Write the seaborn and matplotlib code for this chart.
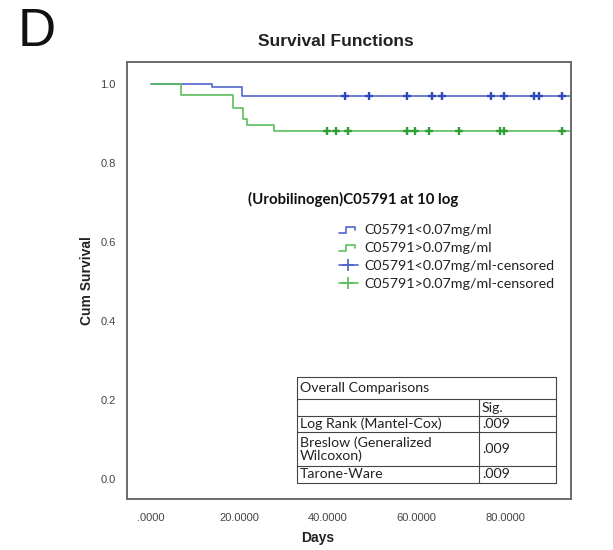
import numpy as np
import pandas as pd
import matplotlib
matplotlib.use("Agg")
import matplotlib.pyplot as plt
from matplotlib.lines import Line2D
from matplotlib.legend_handler import HandlerBase
import seaborn as sns

# ---------------- data ----------------
group_names = ["C05791<0.07mg/ml", "C05791>0.07mg/ml"]
blue_event_days = [13.8, 20.7]
blue_surv = [0.993, 0.970]
green_event_days = [6.8, 18.5, 20.8, 21.7, 27.8]
green_surv = [0.972, 0.940, 0.911, 0.896, 0.881]
blue_censor_days = [43.9, 49.3, 57.9, 63.6, 65.7, 76.9, 79.8, 86.6, 87.7, 92.8]
green_censor_days = [39.7, 41.8, 44.6, 57.9, 59.7, 62.8, 69.7, 78.8, 79.8, 92.8]
followup_end = 96.0
x_ticks = [0, 20, 40, 60, 80]
x_tick_labels = [".0000", "20.0000", "40.0000", "60.0000", "80.0000"]
y_ticks = [0.0, 0.2, 0.4, 0.6, 0.8, 1.0]
y_tick_labels = ["0.0", "0.2", "0.4", "0.6", "0.8", "1.0"]
table_title = "Overall Comparisons"
table_col = "Sig."
table_tests = ["Log Rank (Mantel-Cox)", "Breslow (Generalized\nWilcoxon)", "Tarone-Ware"]
table_sig = [".009", ".009", ".009"]

line_colors = ["#4f66cc", "#5cbf5c"]
mark_colors = ["#3148b8", "#2f9e34"]

# ---------------- build tables ----------------
def step_frame(events, surv, name):
    t = [0.0] + list(events) + [followup_end]
    s = [1.0] + list(surv) + [surv[-1]]
    return pd.DataFrame({"Days": t, "Cum Survival": s, "group": name})

def censor_frame(events, surv, cdays, name):
    t = np.array([0.0] + list(events))
    s = np.array([1.0] + list(surv))
    idx = np.searchsorted(t, np.array(cdays), side="right") - 1
    return pd.DataFrame({"Days": cdays, "Cum Survival": s[idx], "group": name})

steps = pd.concat([step_frame(blue_event_days, blue_surv, group_names[0]),
                   step_frame(green_event_days, green_surv, group_names[1])])
cens = pd.concat([censor_frame(blue_event_days, blue_surv, blue_censor_days, group_names[0]),
                  censor_frame(green_event_days, green_surv, green_censor_days, group_names[1])])

# ---------------- figure ----------------
sns.set_style("white")
plt.rcParams["font.family"] = ["Liberation Sans", "DejaVu Sans"]

W, H = 613, 550
fig = plt.figure(figsize=(W / 100, H / 100), dpi=100)
L, R, T, B = 127, 571, 62, 499
ax = fig.add_axes([L / W, 1 - B / H, (R - L) / W, (B - T) / H])

sns.lineplot(data=steps, x="Days", y="Cum Survival", hue="group",
             palette=line_colors, hue_order=group_names, drawstyle="steps-post",
             estimator=None, sort=False, linewidth=1.2, legend=False, ax=ax)
for g, c in zip(group_names, mark_colors):
    sns.scatterplot(data=cens[cens["group"] == g], x="Days", y="Cum Survival",
                    marker="+", color=c, s=34, linewidth=1.7, legend=False, ax=ax, zorder=5)

x0_px, x80_px = 150.7, 505.0
ppd = (x80_px - x0_px) / 80.0
ax.set_xlim((L - x0_px) / ppd, (R - x0_px) / ppd)
y1_px, y0_px = 84.0, 479.0
ppu = y0_px - y1_px
ax.set_ylim(-(B - y0_px) / ppu, 1 + (y1_px - T) / ppu)

ax.set_xticks(x_ticks)
ax.set_xticklabels(x_tick_labels)
ax.set_yticks(y_ticks)
ax.set_yticklabels(y_tick_labels)
ax.tick_params(axis="both", direction="out", length=6, width=1.2, color="#555555",
               labelsize=8, labelcolor="#444444", pad=2)
ax.tick_params(axis="x", length=7, pad=3)
for sp in ax.spines.values():
    sp.set_visible(True)
    sp.set_color("#6a6a6a")
    sp.set_linewidth(1.4)

ax.set_xlabel("Days", fontsize=10, fontweight="bold", color="#222222")
ax.set_ylabel("Cum Survival", fontsize=10, fontweight="bold", color="#222222")
ax.xaxis.set_label_coords((318 - L) / (R - L), -(531 - B) / (B - T))
ax.yaxis.set_label_coords(-(L - 94) / (R - L), 0.5)

# ---------------- overlay in pixel coordinates ----------------
ov = fig.add_axes([0, 0, 1, 1], facecolor="none")
ov.set_xlim(0, W)
ov.set_ylim(H, 0)
ov.axis("off")

ov.text(18, 46, "D", fontsize=38, color="#111111", ha="left", va="baseline")
ov.text(336, 42, "Survival Functions", fontsize=12.5, fontweight="bold",
        color="#222222", ha="center", va="center")

calib = ["Lato", "DejaVu Sans"]
ov.text(248, 199, "(Urobilinogen)C05791 at 10 log", fontsize=10.8, fontweight="bold",
        family=calib, color="#111111", ha="left", va="center")


class StepHandler(HandlerBase):
    def create_artists(self, legend, orig_handle, xdescent, ydescent,
                       width, height, fontsize, trans):
        x = np.array([0, 0.38, 0.38, 0.85, 0.85]) * width - xdescent
        y = np.array([0.15, 0.15, 0.75, 0.75, 0.45]) * height - ydescent
        ln = Line2D(x, y, color=orig_handle.get_color(), linewidth=1.2, transform=trans)
        return [ln]


handles = [Line2D([], [], color=line_colors[0]),
           Line2D([], [], color=line_colors[1]),
           Line2D([], [], color=line_colors[0], marker="+", markersize=8,
                  markeredgecolor=line_colors[0], markeredgewidth=1.3, linewidth=1.2),
           Line2D([], [], color=line_colors[1], marker="+", markersize=8,
                  markeredgecolor=line_colors[1], markeredgewidth=1.3, linewidth=1.2)]
labels = [group_names[0], group_names[1],
          group_names[0] + "-censored", group_names[1] + "-censored"]
ov.legend(handles, labels, loc="upper left", bbox_to_anchor=(339, 224),
          bbox_transform=ov.transData, frameon=False, borderpad=0, borderaxespad=0,
          handlelength=1.3, handletextpad=0.5, labelspacing=0.42,
          prop={"family": calib, "size": 10.3},
          handler_map={handles[0]: StepHandler(), handles[1]: StepHandler()},
          labelcolor="#222222")

# table
tl, tr, tc = 297, 556, 479
ty = [377, 399, 416, 432, 466, 483]
lc = "#444444"
lw = 0.8
for yy in ty:
    ov.plot([tl, tr], [yy, yy], color=lc, lw=lw)
ov.plot([tl, tl], [ty[0], ty[-1]], color=lc, lw=lw)
ov.plot([tr, tr], [ty[0], ty[-1]], color=lc, lw=lw)
ov.plot([tc, tc], [ty[1], ty[-1]], color=lc, lw=lw)
tfont = dict(family=calib, fontsize=10.2, color="#222222", va="center")
ov.text(tl + 3, (ty[0] + ty[1]) / 2, table_title, ha="left", **tfont)
ov.text(tc + 3, (ty[1] + ty[2]) / 2, table_col, ha="left", **tfont)
for i, (name, sig) in enumerate(zip(table_tests, table_sig)):
    yc = (ty[i + 2] + ty[i + 3]) / 2
    ov.text(tl + 3, yc, name, ha="left", linespacing=1.05, **tfont)
    ov.text(tc + 3, yc, sig, ha="left", **tfont)

fig.savefig("out.png", dpi=100)
